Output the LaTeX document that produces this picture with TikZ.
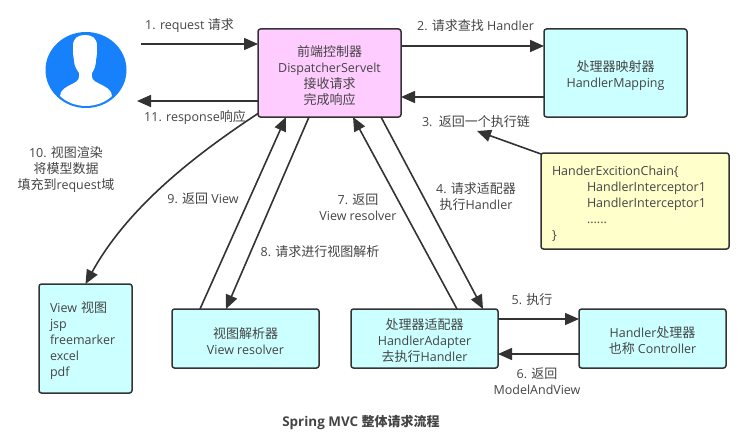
\documentclass[tikz,border=0pt]{standalone}
\usepackage{fontspec}
\setmainfont{Open Sans}[Scale=0.96]
\newfontfamily\cjkf{Noto Sans CJK SC}
\newcommand{\zh}[1]{{\cjkf #1}}
\newcommand{\tl}{\rule{0pt}{15.5pt}}
\usetikzlibrary{arrows.meta,calc,shapes.geometric}
\definecolor{ln}{HTML}{333333}
\definecolor{tx}{HTML}{444444}
\definecolor{cy}{HTML}{CCFFFF}
\definecolor{pk}{HTML}{FFCCFF}
\definecolor{yl}{HTML}{FFFFCC}
\definecolor{bl}{HTML}{1780FB}
\tikzset{
 x=1pt,y=-1pt,
 every node/.style={inner sep=0pt,outer sep=0pt,text=tx,font=\fontsize{13}{16}\selectfont,align=center},
 box/.style={draw=ln,line width=1.5pt,rounded corners=2.5pt,anchor=north west},
 conn/.style={draw=ln,line width=1.6pt,-{Triangle[length=14pt,width=12pt]}},
 lbl/.style={anchor=center},
}
\newcommand{\boxnode}[7]{\node[box,fill=#2,minimum width=#5pt,minimum height=#6pt] (#1) at (#3,#4) {\tl #7};}
\begin{document}
\begin{tikzpicture}
\useasboundingbox (0,0) rectangle (743,444);
% user
\node[ellipse,fill=bl,minimum width=81pt,minimum height=76pt] (user) at (86,70) {};
\fill[white] (85,35) .. controls (78,35) and (73,38) .. (73,46)
  .. controls (73,52) and (73,56) .. (74,60)
  .. controls (74,66) and (77,70) .. (79,73)
  .. controls (80,78) and (78,81) .. (74,83)
  .. controls (66,87) and (60,90) .. (60,96)
  .. controls (66,102) and (76,106) .. (86,106)
  .. controls (96,106) and (106,102) .. (112,96)
  .. controls (112,90) and (106,87) .. (98,83)
  .. controls (93,81) and (91,78) .. (92,73)
  .. controls (94,70) and (96,66) .. (96,60)
  .. controls (97,56) and (97,52) .. (97,46)
  .. controls (97,38) and (92,35) .. (85,35) -- cycle;
% boxes
\boxnode{disp}{pk}{258}{29}{143}{88}{\zh{前端控制器}\\DispatcherServelt\\\zh{接收请求}\\\zh{完成响应}}
\boxnode{map}{cy}{544}{29}{143}{88}{\zh{处理器映射器}\\HandlerMapping}
\node[box,fill=yl,minimum width=188pt,minimum height=96pt,align=left,text width=166pt,inner xsep=11pt] (chain) at (541,153) {\tl HanderExcitionChain\{\\\hspace*{35pt}HandlerInterceptor1\\\hspace*{35pt}HandlerInterceptor1\\\hspace*{35pt}......\\\}};
\node[box,fill=cy,minimum width=93pt,minimum height=109pt,align=left,text width=71pt,inner xsep=11pt] (view) at (39,284) {\tl View \zh{视图}\\jsp\\freemarker\\excel\\pdf};
\boxnode{res}{cy}{172}{309}{147}{59}{\zh{视图解析器}\\View resolver}
\boxnode{adp}{cy}{351}{309}{147}{59}{\zh{处理器适配器}\\HandlerAdapter\\\zh{去执行}Handler}
\boxnode{hdl}{cy}{579}{309}{147}{59}{Handler\zh{处理器}\\\zh{也称} Controller}
% free ends
\coordinate (uin) at (141,44);
\coordinate (uout) at (137,101);
\coordinate (c3) at (477,131);
% connectors
\draw[conn] (uin) -- ([yshift=-15pt]disp.north west);
\draw[conn] ([yshift=16pt]disp.south west) -- (uout);
\draw[conn] ([yshift=-17pt]disp.north east) -- ([yshift=-17pt]map.north west);
\draw[conn] ([yshift=20pt]map.south west) -- ([yshift=20pt]disp.south east);
\draw[conn] ([yshift=-1pt]chain.north west) -- (c3);
\draw[conn] ([yshift=3.5pt]disp.south west) .. controls (195,155) and (128,207) .. (view.north);
\draw[conn] ([xshift=28pt]res.north west) -- ([xshift=28pt]disp.south west);
\draw[conn] ([xshift=51pt]disp.south west) -- ([xshift=54pt]res.north west);
\draw[conn] ([xshift=106pt]adp.north west) -- ([xshift=95pt]disp.south west);
\draw[conn] ([xshift=123pt]disp.south west) -- ([xshift=132pt]adp.north west);
\draw[conn] ([yshift=-10pt]adp.north east) -- ([yshift=-10pt]hdl.north west);
\draw[conn] ([yshift=14pt]hdl.south west) -- ([yshift=14pt]adp.south east);
% labels
\node[lbl] (l1) at (189.5,25.5) {1. request \zh{请求}};
\node[lbl] (l2) at (475.5,25.5) {2. \zh{请求查找} Handler};
\node[lbl] (l3) at (476,122) {3.\ \ \zh{返回一个执行链}};
\node[lbl] (l4) at (476,197) {4. \zh{请求适配器}\\\zh{执行}Handler};
\node[lbl] (l5) at (532,300) {5. \zh{执行}};
\node[lbl] (l6) at (537,381) {6. \zh{返回}\\ModelAndView};
\node[lbl] (l7) at (358,207) {7. \zh{返回}\\View resolver};
\node[lbl] (l8) at (320,252) {8. \zh{请求进行视图解析}};
\node[lbl] (l9) at (203,199) {9. \zh{返回} View};
\node[lbl] (l10) at (66,170) {10. \zh{视图渲染}\\\zh{将模型数据}\\\zh{填充到}request\zh{域}};
\node[lbl] (l11) at (195,117) {11. response\zh{响应}};
\node[lbl,font=\fontsize{14}{16}\selectfont\bfseries] (title) at (361,423) {Spring MVC {\fontsize{13}{16}\selectfont\cjkf 整体请求流程}};
\end{tikzpicture}
\end{document}
